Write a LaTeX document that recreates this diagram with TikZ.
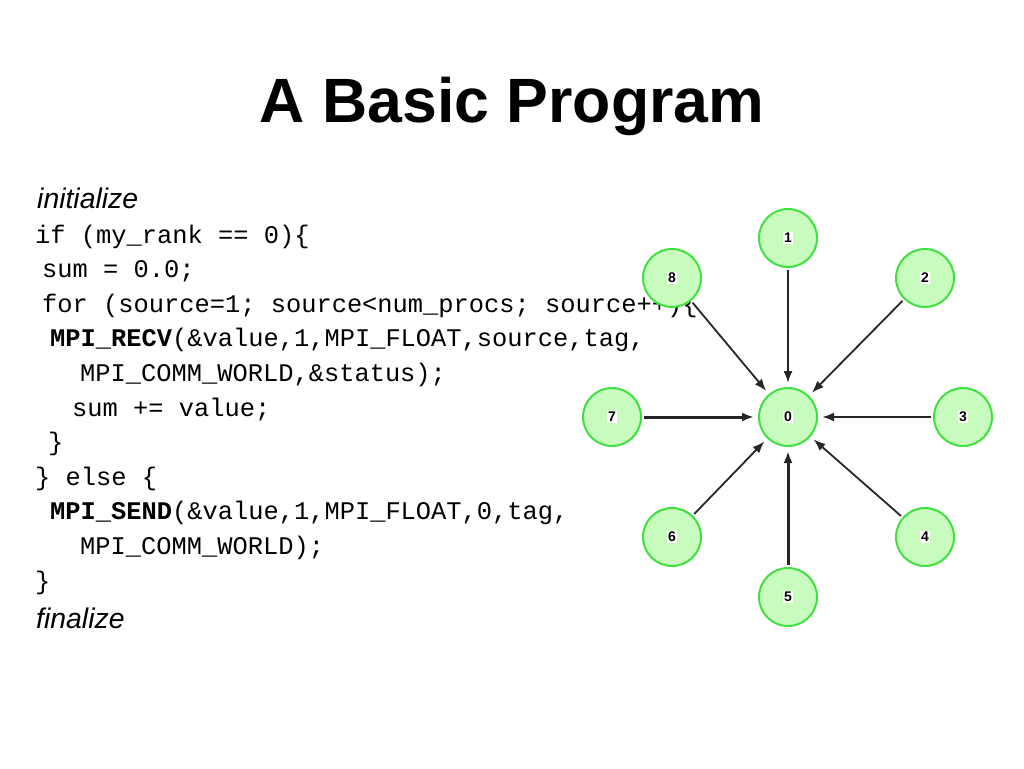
\documentclass[tikz,border=0pt]{standalone}
\usepackage{fontspec}
\setmainfont{Liberation Sans}
\setsansfont{Liberation Sans}
\setmonofont{Liberation Mono}
\usepackage{tikz}
\usetikzlibrary{arrows,arrows.meta,calc,positioning}
\definecolor{nodefill}{RGB}{200,252,190}
\definecolor{nodeedge}{RGB}{64,224,64}
\setlength{\fboxsep}{1.5pt}

\begin{document}
\begin{tikzpicture}[x = 1pt, y = -1pt]
	\tikzstyle{proc} = [circle, draw = nodeedge, fill = nodefill, line width = 2pt, minimum size = 58pt, inner sep = 0pt, font = \sffamily\bfseries\fontsize{14}{14}\selectfont]
	\tikzstyle{code} = [anchor = base west, inner sep = 0pt, font = \ttfamily\fontsize{25.4}{25.4}\selectfont]
	\tikzstyle{word} = [anchor = base west, inner sep = 0pt, font = \itshape\fontsize{28.4}{28.4}\selectfont]
	\tikzstyle{msg} = [-{Latex[length = 12pt, width = 9pt]}, line width = 1.8pt, draw = black!85, shorten > = 4pt, shorten < = 2pt]
\useasboundingbox (0, 0) rectangle (1024, 768);

% title
\node[anchor = base, inner sep = 0pt, font = \bfseries\fontsize{62.6}{62.6}\selectfont] (title) at (512, 122) {A Basic Program};

% program text
\node[word] (init) at (37, 208) {initialize};
\node[code] (l1) at (35, 243) {if (my\_rank == 0)\{};
\node[code] (l2) at (42, 277.6) {sum = 0.0;};
\node[code] (l3) at (42, 312.2) {for (source=1; source<num\_procs; source++)\{};
\node[code] (l4) at (50, 346.8) {\textbf{MPI\_RECV}(\&value,1,MPI\_FLOAT,source,tag,};
\node[code] (l5) at (80, 381.4) {MPI\_COMM\_WORLD,\&status);};
\node[code] (l6) at (72, 416) {sum += value;};
\node[code] (l7) at (48, 450.6) {\}};
\node[code] (l8) at (35, 485.2) {\} else \{};
\node[code] (l9) at (50, 519.8) {\textbf{MPI\_SEND}(\&value,1,MPI\_FLOAT,0,tag,};
\node[code] (l10) at (80, 554.4) {MPI\_COMM\_WORLD);};
\node[code] (l11) at (35, 589) {\}};
\node[word] (fin) at (36, 628) {finalize};

% processes
\node[proc] (0) at (788, 417) {\colorbox{white}{0}};
\node[proc] (1) at (788, 238) {\colorbox{white}{1}};
\node[proc] (2) at (925, 278) {\colorbox{white}{2}};
\node[proc] (3) at (963, 417) {\colorbox{white}{3}};
\node[proc] (4) at (925, 537) {\colorbox{white}{4}};
\node[proc] (5) at (788, 597) {\colorbox{white}{5}};
\node[proc] (6) at (672, 537) {\colorbox{white}{6}};
\node[proc] (7) at (612, 417) {\colorbox{white}{7}};
\node[proc] (8) at (672, 278) {\colorbox{white}{8}};

	\path[draw, msg] (1) -- (0);
	\path[draw, msg] (2) -- (0);
	\path[draw, msg, line width = 2.2pt] (3) -- (0);
	\path[draw, msg] (4) -- (0);
	\path[draw, msg, line width = 3pt] (5) -- (0);
	\path[draw, msg] (6) -- (0);
	\path[draw, msg, line width = 3pt] (7) -- (0);
	\path[draw, msg] (8) -- (0);
\end{tikzpicture}
\end{document}
